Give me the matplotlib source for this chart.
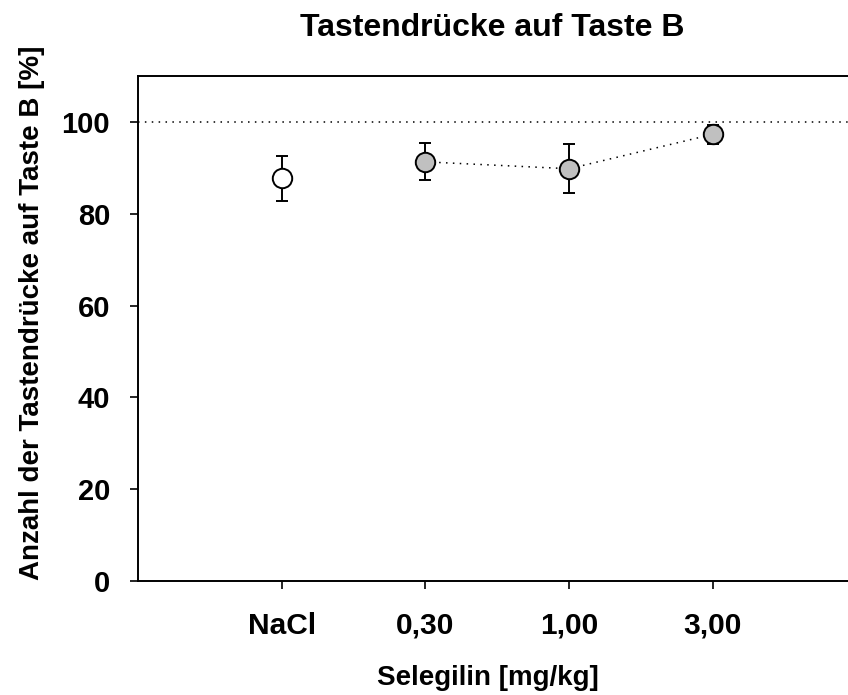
import matplotlib
matplotlib.use("Agg")
import matplotlib.pyplot as plt

plt.rcParams['font.family'] = ['Liberation Sans', 'DejaVu Sans']

categories = ["NaCl", "0,30", "1,00", "3,00"]
means = [87.7, 91.3, 89.8, 97.3]
errors = [4.9, 4.0, 5.3, 2.1]
yticks = [0, 20, 40, 60, 80, 100]

W, H = 848, 695
fig = plt.figure(figsize=(W / 100, H / 100), dpi=100)
left, right, top, bottom = 138, 856.5, 76, 581
ax = fig.add_axes([left / W, 1 - bottom / H, (right - left) / W, (bottom - top) / H])

xpos = list(range(1, len(categories) + 1))
ax.axhline(100, color='black', lw=1.1, ls=(0, (1, 3.5)), zorder=1)
ax.plot(xpos[1:], means[1:], color='black', lw=1.1, ls=(0, (1, 3.5)), zorder=2)
ax.errorbar(xpos[:1], means[:1], yerr=errors[:1], fmt='o', ms=14, mfc='white', mec='black',
            mew=1.4, ecolor='black', elinewidth=1.4, capsize=4, capthick=1.4, zorder=3)
ax.errorbar(xpos[1:], means[1:], yerr=errors[1:], fmt='o', ms=14, mfc='#c0c0c0', mec='black',
            mew=1.4, ecolor='black', elinewidth=1.4, capsize=4, capthick=1.4, zorder=3)

ax.set_xlim(0, 5)
ax.set_ylim(0, 110)
ax.set_xticks(xpos)
ax.set_xticklabels(categories)
ax.set_yticks(yticks)
for s in ['left', 'bottom', 'top']:
    ax.spines[s].set_linewidth(1.4)
ax.spines['right'].set_visible(False)
ax.tick_params(axis='y', direction='out', length=6, width=1.2, pad=14, labelsize=21)
ax.tick_params(axis='x', direction='out', length=6, width=1.2, pad=16, labelsize=21.5)
for lab in ax.get_xticklabels() + ax.get_yticklabels():
    lab.set_fontweight('bold')

ax.set_xlabel("Selegilin [mg/kg]", fontsize=20, fontweight='bold')
ax.xaxis.set_label_coords((488 - left) / (right - left), (bottom - 678) / (bottom - top))
ax.set_ylabel("Anzahl der Tastendrücke auf Taste B [%]", fontsize=20, fontweight='bold')
ax.yaxis.set_label_coords((32 - left) / (right - left), (bottom - 313) / (bottom - top))
ax.xaxis.label.set_va('center')
ax.yaxis.label.set_va('center')
fig.text(492 / W, 1 - 28 / H, "Tastendrücke auf Taste B", ha='center', va='center',
         fontsize=23, fontweight='bold')

fig.savefig("out.png", dpi=100)
